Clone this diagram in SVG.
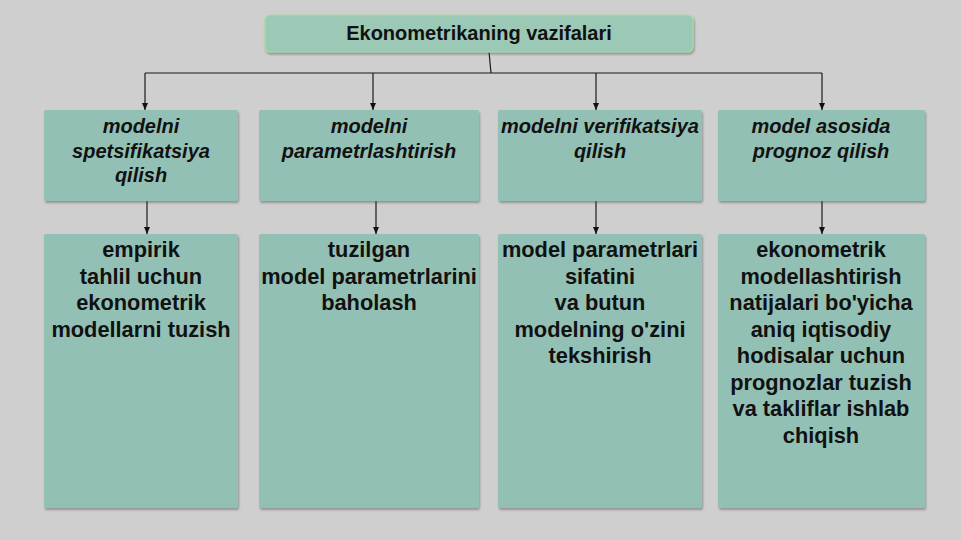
<svg xmlns="http://www.w3.org/2000/svg" width="961" height="540" viewBox="0 0 961 540">
<defs>
<style>
.box{fill:#93c0b4;filter:url(#sh);}
.top{fill:#9cc8b6;stroke:#a9dca6;stroke-width:1.2;filter:url(#sh);}
.ln{stroke:#1a1a1a;stroke-width:1.2;fill:none;}
.ar{marker-end:url(#ah);}
.t0{font-family:"Liberation Sans",Arial,sans-serif;font-weight:bold;font-size:20px;fill:#111;text-anchor:middle;}
.t1{font-family:"Liberation Sans",Arial,sans-serif;font-weight:bold;font-style:italic;font-size:20px;fill:#111;text-anchor:middle;}
.t2{font-family:"Liberation Sans",Arial,sans-serif;font-weight:bold;font-size:21.8px;fill:#111;text-anchor:middle;}
</style>
<marker id="ah" markerWidth="8" markerHeight="8" refX="7" refY="4" orient="auto" markerUnits="userSpaceOnUse">
<path d="M0,1 L7,4 L0,7 Z" fill="#111"/>
</marker>
<filter id="sh" x="-5%" y="-5%" width="110%" height="115%">
<feDropShadow dx="1" dy="2" stdDeviation="1.2" flood-color="#555" flood-opacity="0.5"/>
</filter>
</defs>
<rect width="961" height="540" fill="#cfcfcf"/>
<g id="connectors">
<line class="ln" x1="489" y1="52" x2="491" y2="73"/>
<line class="ln" x1="145" y1="73" x2="822" y2="73"/>
<line class="ln ar" x1="145" y1="73" x2="145" y2="110"/>
<line class="ln ar" x1="373" y1="73" x2="373" y2="110"/>
<line class="ln ar" x1="596" y1="73" x2="596" y2="110"/>
<line class="ln ar" x1="822" y1="73" x2="822" y2="110"/>
<line class="ln ar" x1="147" y1="201" x2="147" y2="234"/>
<line class="ln ar" x1="376" y1="201" x2="376" y2="234"/>
<line class="ln ar" x1="596" y1="201" x2="596" y2="234"/>
<line class="ln ar" x1="822" y1="201" x2="822" y2="234"/>
</g>
<g id="title">
<rect class="top" x="265" y="15" width="428" height="37" rx="5"/>
<text class="t0" x="479" y="40">Ekonometrikaning vazifalari</text>
</g>
<g id="task1">
<rect class="box" x="44" y="110" width="194" height="91" rx="2"/>
<text class="t1" x="141" y="133">modelni</text>
<text class="t1" x="141" y="158">spetsifikatsiya</text>
<text class="t1" x="141" y="182">qilish</text>
</g>
<g id="task2">
<rect class="box" x="259" y="110" width="220" height="91" rx="2"/>
<text class="t1" x="369" y="133">modelni</text>
<text class="t1" x="369" y="158">parametrlashtirish</text>
</g>
<g id="task3">
<rect class="box" x="498" y="110" width="204" height="91" rx="2"/>
<text class="t1" x="600" y="133">modelni verifikatsiya</text>
<text class="t1" x="600" y="158">qilish</text>
</g>
<g id="task4">
<rect class="box" x="718" y="110" width="207" height="91" rx="2"/>
<text class="t1" x="821" y="133">model asosida</text>
<text class="t1" x="821" y="158">prognoz qilish</text>
</g>
<g id="desc1">
<rect class="box" x="44" y="234" width="194" height="274" rx="2"/>
<text class="t2" x="141" y="257">empirik</text>
<text class="t2" x="141" y="283.5">tahlil uchun</text>
<text class="t2" x="141" y="310">ekonometrik</text>
<text class="t2" x="141" y="336.5">modellarni tuzish</text>
</g>
<g id="desc2">
<rect class="box" x="259" y="234" width="220" height="274" rx="2"/>
<text class="t2" x="369" y="257">tuzilgan</text>
<text class="t2" x="369" y="283.5">model parametrlarini</text>
<text class="t2" x="369" y="310">baholash</text>
</g>
<g id="desc3">
<rect class="box" x="498" y="234" width="204" height="274" rx="2"/>
<text class="t2" x="600" y="257">model parametrlari</text>
<text class="t2" x="600" y="283.5">sifatini</text>
<text class="t2" x="600" y="310">va butun</text>
<text class="t2" x="600" y="336.5">modelning o'zini</text>
<text class="t2" x="600" y="363">tekshirish</text>
</g>
<g id="desc4">
<rect class="box" x="718" y="234" width="207" height="274" rx="2"/>
<text class="t2" x="821" y="257">ekonometrik</text>
<text class="t2" x="821" y="283.5">modellashtirish</text>
<text class="t2" x="821" y="310">natijalari bo'yicha</text>
<text class="t2" x="821" y="336.5">aniq iqtisodiy</text>
<text class="t2" x="821" y="363">hodisalar uchun</text>
<text class="t2" x="821" y="389.5">prognozlar tuzish</text>
<text class="t2" x="821" y="416">va takliflar ishlab</text>
<text class="t2" x="821" y="442.5">chiqish</text>
</g>
</svg>
